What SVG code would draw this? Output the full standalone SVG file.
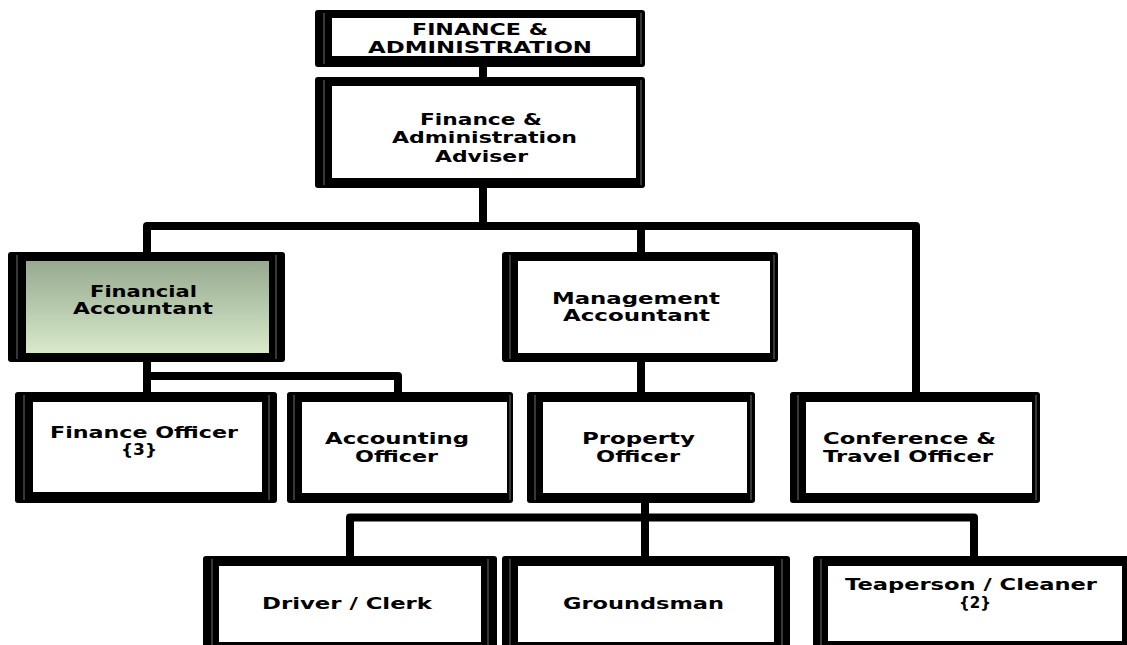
<svg xmlns="http://www.w3.org/2000/svg" width="1127" height="645" viewBox="0 0 1127 645">
<defs>
<linearGradient id="faGrad" x1="0" y1="0" x2="0" y2="1">
<stop offset="0" stop-color="#97a98f"/>
<stop offset="1" stop-color="#d8eaca"/>
</linearGradient>
</defs>
<style>
.frame{fill:#000}
.inner{fill:#fff}
.rule{stroke:#8a8a8a;stroke-width:0.8;fill:none}
.conn{fill:none;stroke:#000;stroke-width:8;stroke-linejoin:round}
text{font-family:"DejaVu Sans","Liberation Sans",sans-serif;font-weight:bold;fill:#000}
.t16{font-size:16px}
.t17{font-size:16.5px}
</style>
<rect width="1127" height="645" fill="#fff"/>
<g id="connectors">
<path class="conn" d="M483,66 V78"/>
<path class="conn" d="M483,187 V226"/>
<path class="conn" d="M147,253 V226 H916 V393"/>
<path class="conn" d="M641,226 V253"/>
<path class="conn" d="M147,361 V393"/>
<path class="conn" d="M147,376 H398 V393"/>
<path class="conn" d="M641,361 V393"/>
<path class="conn" d="M645,502 V557"/>
<path class="conn" d="M350,557 V517.5 H974 V557"/>
</g>
<g id="node-finance-administration">
<rect class="frame" x="315" y="10" width="330" height="57" rx="3"/>
<rect class="inner" x="332" y="18" width="304" height="38"/>
<line class="rule" x1="324" y1="13" x2="324" y2="64"/><line class="rule" x1="641" y1="13" x2="641" y2="64"/>
<text class="t16" x="412" y="35" textLength="136" lengthAdjust="spacingAndGlyphs">FINANCE &amp;</text>
<text class="t16" x="368" y="52.5" textLength="224" lengthAdjust="spacingAndGlyphs">ADMINISTRATION</text>
</g>
<g id="node-adviser">
<rect class="frame" x="315" y="77" width="330" height="111" rx="3"/>
<rect class="inner" x="332" y="86" width="304" height="92"/>
<line class="rule" x1="324" y1="80" x2="324" y2="185"/><line class="rule" x1="641" y1="80" x2="641" y2="185"/>
<text class="t17" x="420" y="125" textLength="122" lengthAdjust="spacingAndGlyphs">Finance &amp;</text>
<text class="t17" x="392" y="143" textLength="185" lengthAdjust="spacingAndGlyphs">Administration</text>
<text class="t17" x="435" y="161.5" textLength="93" lengthAdjust="spacingAndGlyphs">Adviser</text>
</g>
<g id="node-financial-accountant">
<rect class="frame" x="8" y="252" width="277" height="110" rx="3"/>
<rect x="26" y="261" width="243" height="92" fill="url(#faGrad)"/>
<line class="rule" x1="17" y1="255" x2="17" y2="359"/><line class="rule" x1="276" y1="255" x2="276" y2="359"/>
<text class="t16" x="90" y="297" textLength="107" lengthAdjust="spacingAndGlyphs">Financial</text>
<text class="t16" x="73" y="314" textLength="140" lengthAdjust="spacingAndGlyphs">Accountant</text>
</g>
<g id="node-management-accountant">
<rect class="frame" x="502" y="252" width="276" height="110" rx="3"/>
<rect class="inner" x="518" y="261" width="252" height="92"/>
<line class="rule" x1="510" y1="255" x2="510" y2="359"/><line class="rule" x1="774" y1="255" x2="774" y2="359"/>
<text class="t16" x="552" y="304" textLength="168" lengthAdjust="spacingAndGlyphs">Management</text>
<text class="t16" x="563" y="321" textLength="147" lengthAdjust="spacingAndGlyphs">Accountant</text>
</g>
<g id="node-finance-officer">
<rect class="frame" x="15" y="392" width="262" height="111" rx="3"/>
<rect class="inner" x="33" y="402" width="229" height="90"/>
<line class="rule" x1="24" y1="395" x2="24" y2="500"/><line class="rule" x1="269" y1="395" x2="269" y2="500"/>
<text class="t16" x="50" y="437.5" textLength="188" lengthAdjust="spacingAndGlyphs">Finance Officer</text>
<text class="t16" x="121" y="455" textLength="36" lengthAdjust="spacingAndGlyphs">{3}</text>
</g>
<g id="node-accounting-officer">
<rect class="frame" x="287" y="392" width="226" height="111" rx="3"/>
<rect class="inner" x="302" y="402" width="205" height="91"/>
<line class="rule" x1="294" y1="395" x2="294" y2="500"/><line class="rule" x1="510" y1="395" x2="510" y2="500"/>
<text class="t16" x="325" y="444" textLength="144" lengthAdjust="spacingAndGlyphs">Accounting</text>
<text class="t16" x="355" y="462" textLength="83" lengthAdjust="spacingAndGlyphs">Officer</text>
</g>
<g id="node-property-officer">
<rect class="frame" x="527" y="392" width="228" height="111" rx="3"/>
<rect class="inner" x="543" y="402" width="204" height="91"/>
<line class="rule" x1="535" y1="395" x2="535" y2="500"/><line class="rule" x1="751" y1="395" x2="751" y2="500"/>
<text class="t16" x="582" y="444" textLength="113" lengthAdjust="spacingAndGlyphs">Property</text>
<text class="t16" x="596" y="462" textLength="84" lengthAdjust="spacingAndGlyphs">Officer</text>
</g>
<g id="node-conference-travel-officer">
<rect class="frame" x="790" y="392" width="250" height="111" rx="3"/>
<rect class="inner" x="806" y="402" width="226" height="91"/>
<line class="rule" x1="798" y1="395" x2="798" y2="500"/><line class="rule" x1="1036" y1="395" x2="1036" y2="500"/>
<text class="t16" x="823" y="444" textLength="173" lengthAdjust="spacingAndGlyphs">Conference &amp;</text>
<text class="t16" x="823" y="462" textLength="170" lengthAdjust="spacingAndGlyphs">Travel Officer</text>
</g>
<g id="node-driver-clerk">
<rect class="frame" x="203" y="556" width="294" height="100" rx="3"/>
<rect class="inner" x="219" y="566" width="262" height="76"/>
<line class="rule" x1="212" y1="559" x2="212" y2="645"/><line class="rule" x1="488" y1="559" x2="488" y2="645"/>
<text class="t16" x="262" y="609" textLength="170" lengthAdjust="spacingAndGlyphs">Driver / Clerk</text>
</g>
<g id="node-groundsman">
<rect class="frame" x="502" y="556" width="288" height="100" rx="3"/>
<rect class="inner" x="518" y="566" width="256" height="76"/>
<line class="rule" x1="510" y1="559" x2="510" y2="645"/><line class="rule" x1="782" y1="559" x2="782" y2="645"/>
<text class="t16" x="563" y="609" textLength="161" lengthAdjust="spacingAndGlyphs">Groundsman</text>
</g>
<g id="node-teaperson-cleaner">
<rect class="frame" x="813" y="556" width="320" height="100" rx="3"/>
<rect class="inner" x="828" y="566" width="294" height="75"/>
<line class="rule" x1="821" y1="559" x2="821" y2="645"/>
<text class="t16" x="845" y="590" textLength="252" lengthAdjust="spacingAndGlyphs">Teaperson / Cleaner</text>
<text class="t16" x="959" y="608" textLength="32" lengthAdjust="spacingAndGlyphs">{2}</text>
</g>
</svg>
